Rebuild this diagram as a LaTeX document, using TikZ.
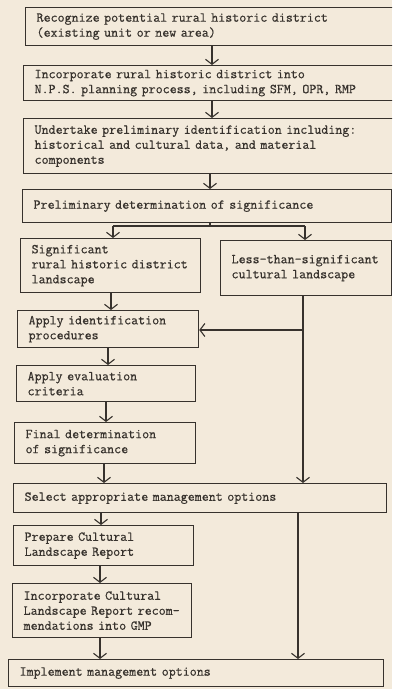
\documentclass[tikz,border=0pt]{standalone}
\usepackage{fontspec}
\newfontfamily\tw{Latin Modern Mono}[FakeBold=0.5]
\usetikzlibrary{arrows.meta}
\definecolor{paper}{RGB}{243,234,219}
\definecolor{ink}{RGB}{55,50,45}
\tikzset{
  box/.style={draw=ink, line width=1.2pt, anchor=north west, align=left, inner xsep=11pt, inner ysep=0pt, text=ink,
    font=\tw\fontsize{13.6}{15}\selectfont},
  arr/.style={draw=ink, line width=1.1pt, -{Straight Barb[length=5pt,width=13pt,line width=1.1pt]}},
  ln/.style={draw=ink, line width=1.1pt}
}
\newcommand\bx[6]{\node[box, text width=#4-22pt, minimum width=#4, minimum height=#5] (#1) at (#2,#3) {#6};}
\begin{document}
\begin{tikzpicture}[x=1pt,y=-1pt]
\fill[paper] (0,0) rectangle (392,689);
\useasboundingbox (0,0) rectangle (392,689);
\clip (0,0) rectangle (392,689);
\bx{b1}{25}{7}{380pt}{38pt}{\mbox{Recognize potential rural historic district}\\\mbox{(existing unit or new area)}}
\bx{b2}{23}{65}{382pt}{35pt}{\mbox{Incorporate rural historic district into}\\\mbox{N.P.S. planning process, including SFM, OPR, RMP}}
\bx{b3}{23}{118}{382pt}{55pt}{\mbox{Undertake preliminary identification including:}\\\mbox{historical and cultural data, and material}\\\mbox{components}}
\bx{b4}{22}{189}{369pt}{33pt}{\mbox{Preliminary determination of significance}}
\bx{b5}{20}{238}{180pt}{54pt}{\mbox{Significant}\\\mbox{rural historic district}\\\mbox{landscape}}
\bx{b6}{220}{240}{171pt}{55pt}{\mbox{Less-than-significant}\\\mbox{cultural landscape}}
\bx{b7}{17}{310}{181pt}{37pt}{\mbox{Apply identification}\\\mbox{procedures}}
\bx{b8}{16}{365}{179pt}{36pt}{\mbox{Apply evaluation}\\\mbox{criteria}}
\bx{b9}{14}{422}{181pt}{41pt}{\mbox{Final determination}\\\mbox{of significance}}
\bx{b10}{13}{483}{373pt}{29pt}{\mbox{Select appropriate management options}}
\bx{b11}{13}{525}{180pt}{40pt}{\mbox{Prepare Cultural}\\\mbox{Landscape Report}}
\bx{b12}{12}{583}{179pt}{54pt}{\mbox{Incorporate Cultural}\\\mbox{Landscape Report recom-}\\\mbox{mendations into GMP}}
\bx{b13}{8}{659}{375pt}{27pt}{\mbox{Implement management options}}
% x positions
\coordinate (xa) at (212,0);
\coordinate (xb) at (210,0);
\coordinate (x7) at (111,0);
\coordinate (x8) at (108,0);
\coordinate (x9) at (106,0);
\coordinate (x10) at (104,0);
\coordinate (x11) at (101,0);
\coordinate (x12) at (100,0);
\coordinate (xs) at (303,0);
\coordinate (xt) at (298,0);
\coordinate (split) at (210,226);
\coordinate (sl) at (113,226);
\coordinate (sr) at (305,226);
\coordinate (j1) at (303,330);
\draw[arr] (b1.south -| xa) -- (b2.north -| xa);
\draw[arr] (b2.south -| xa) -- (b3.north -| xa);
\draw[arr] (b3.south -| xb) -- (b4.north -| xb);
\draw[ln] (b4.south -| xb) -- (split);
\draw[ln] (sl) -- (sr);
\draw[arr] (sl) -- (b5.north -| sl);
\draw[arr] (sr) -- (b6.north -| sr);
\draw[arr] (b5.south -| x7) -- (b7.north -| x7);
\draw[arr] (b7.south -| x8) -- (b8.north -| x8);
\draw[arr] (b8.south -| x9) -- (b9.north -| x9);
\draw[arr] (b9.south -| x10) -- (b10.north -| x10);
\draw[arr] (b10.south -| x11) -- (b11.north -| x11);
\draw[arr] (b11.south -| x12) -- (b12.north -| x12);
\draw[arr] (b12.south -| x12) -- (b13.north -| x12);
\draw[arr] (b6.south -| xs) -- (b10.north -| xs);
\draw[arr] (j1) -- (j1 -| b7.east);
\draw[arr] (b10.south -| xt) -- (b13.north -| xt);
\end{tikzpicture}
\end{document}
